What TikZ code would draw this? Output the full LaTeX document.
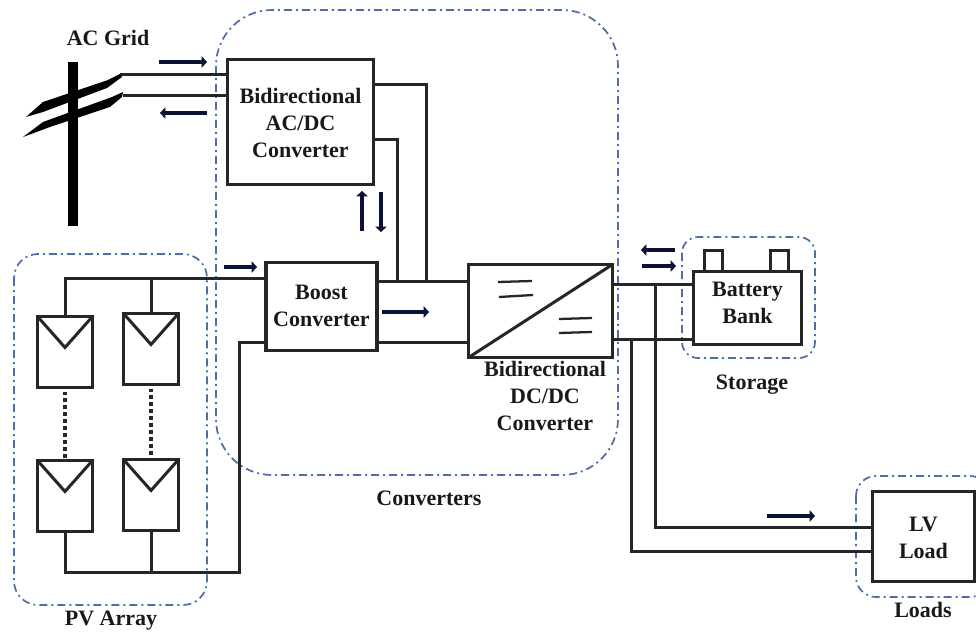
\documentclass[tikz,border=0pt]{standalone}
\usepackage{fontspec}
\setmainfont{Liberation Serif}
\usetikzlibrary{arrows.meta,calc}
\definecolor{dashblue}{HTML}{4F6DA8}
\definecolor{flow}{HTML}{0B1238}
\tikzset{
  x=0.75pt,y=-0.75pt,
  lbl/.style={font=\fontsize{16.5}{20.3}\selectfont\bfseries,text=black!90,align=center,inner sep=0pt},
  wire/.style={line width=2.25pt,black!85,line join=miter},
  boxs/.style={draw=black!85,line width=2.4pt,fill=white,outer sep=0pt,anchor=north west},
  grp/.style={draw=dashblue,line width=1.3pt,dash pattern=on 6pt off 3pt on 1.5pt off 3pt},
  flowarrow/.style={draw=flow,line width=3.6pt,-{Triangle[length=4pt,width=8.5pt]}},
  panel/.style={boxs,minimum width=41.25pt,minimum height=53.25pt},
  gap/.style={wire,line width=3pt,dash pattern=on 2.8pt off 2.4pt}
}
\begin{document}
\begin{tikzpicture}
\useasboundingbox (0,0) rectangle (976,635);
% groups
\draw[grp,rounded corners=42pt] (216,10) rectangle (618,475);
\draw[grp,rounded corners=18pt] (14,254) rectangle (207,605);
\draw[grp,rounded corners=12pt] (682,237) rectangle (815,358);
\draw[grp,rounded corners=15pt] (856,476) rectangle (990,597);
% corner coordinates
\coordinate (c1) at (120,75);
\coordinate (c2) at (123,96);
\coordinate (v1) at (426,85);
\coordinate (v2) at (397,140);
\coordinate (lv1) at (655,527);
\coordinate (lv2) at (631,551);
\coordinate (pvt) at (0,278);
\coordinate (pvb) at (239,572);
% nodes
\node[boxs,minimum width=109.5pt,minimum height=93.75pt] (ac) at (227.5,59.5) {};
\node[lbl] at ($(ac.center)+(0,1)$) {Bidirectional\\AC/DC\\Converter};
\node[boxs,minimum width=83.25pt,minimum height=66pt] (boost) at (266,262.5) {};
\node[lbl] at ($(boost.center)+(0,-1)$) {Boost\\Converter};
\node[boxs,minimum width=108pt,minimum height=69.75pt] (dc) at (468.5,264.5) {};
\node[boxs,minimum width=13.5pt,minimum height=15.75pt] (t1) at (704.5,250.5) {};
\node[boxs,minimum width=13.5pt,minimum height=15.75pt] (t2) at (770.5,250.5) {};
\node[boxs,minimum width=81pt,minimum height=54.75pt] (bat) at (693.5,271.5) {};
\node[lbl] at ($(bat.center)+(0,-5)$) {Battery\\Bank};
\node[boxs,minimum width=76.5pt,minimum height=67.5pt] (load) at (872.5,491.5) {};
\node[lbl] at ($(load.center)+(0,1)$) {LV\\Load};
% panels
\node[panel] (p1) at (37.5,316.5) {};
\node[panel] (p2) at (123.5,313.5) {};
\node[panel] (p3) at (37.5,460.5) {};
\node[panel] (p4) at (123.5,459.5) {};
\foreach \p in {p1,p2,p3,p4}{
  \draw[wire] (\p.north west) -- ($(\p.north)+(0,31)$) -- (\p.north east);
}
% dc symbols
\draw[wire] (dc.south west) -- (dc.north east);
\draw[wire,line width=1.7pt] (498,282) -- (532,281);
\draw[wire,line width=1.7pt] (499,297) -- (533,295);
\draw[wire,line width=1.7pt] (559,319) -- (592,318);
\draw[wire,line width=1.7pt] (559,333) -- (592,332);
% wires
\draw[wire] (c1) -- (ac.west |- c1);
\draw[wire] (c2) -- (ac.west |- c2);
\draw[wire] (ac.east |- v1) -- (v1) -- (426,281);
\draw[wire] (ac.east |- v2) -- (v2) -- (397,281);
\draw[wire] (boost.east |- 0,281) -- (dc.west |- 0,281);
\draw[wire] (boost.east |- 0,342) -- (dc.west |- 0,342);
\draw[wire] (dc.east |- 0,284) -- (bat.west |- 0,284);
\draw[wire] (dc.east |- 0,339) -- (bat.west |- 0,339);
\draw[wire] (655,284) -- (lv1) -- (load.west |- lv1);
\draw[wire] (631,339) -- (lv2) -- (load.west |- lv2);
\draw[wire] (boost.west |- pvt) -- (p1.north |- pvt) -- (p1.north);
\draw[wire] (p2.north |- pvt) -- (p2.north);
\draw[wire] (p3.south) -- (p3.south |- pvb) -- (pvb) -- (pvb |- 0,342) -- (boost.west |- 0,342);
\draw[wire] (p4.south) -- (p4.south |- pvb);
\draw[gap] ($(p1.south)+(0,4)$) -- ($(p3.north)+(0,-3)$);
\draw[gap] ($(p2.south)+(0,4)$) -- ($(p4.north)+(0,-3)$);
% pole
\fill[black] (68,62) rectangle (78,226);
\fill[black] (26,117) -- (43,102) -- (108,80) -- (120,74) -- (122,77) -- (107,88) -- (43,112) -- cycle;
\fill[black] (23,137) -- (43,122) -- (112,97) -- (123,92) -- (122,97) -- (110,107) -- (50,127) -- cycle;
% flow arrows
\draw[flowarrow] (159,62) -- (207,62);
\draw[flowarrow] (207,113) -- (160,113);
\draw[flowarrow] (362,231) -- (362,191);
\draw[flowarrow] (381,192) -- (381,232);
\draw[flowarrow] (224,267) -- (257,267);
\draw[flowarrow] (382,312) -- (429,312);
\draw[flowarrow] (675,250) -- (641,250);
\draw[flowarrow] (642,266) -- (676,266);
\draw[flowarrow] (767,516) -- (815,516);
% labels
\node[lbl] (tg) at (108,38) {AC Grid};
\node[lbl] (tpv) at (111,621) {PV Array};
\node[lbl] (tdc) at (545,396) {Bidirectional\\DC/DC\\Converter};
\node[lbl] (tc) at (429,498) {Converters};
\node[lbl] (ts) at (752,385) {Storage};
\node[lbl] (tl) at (923,610) {Loads};
\end{tikzpicture}
\end{document}
